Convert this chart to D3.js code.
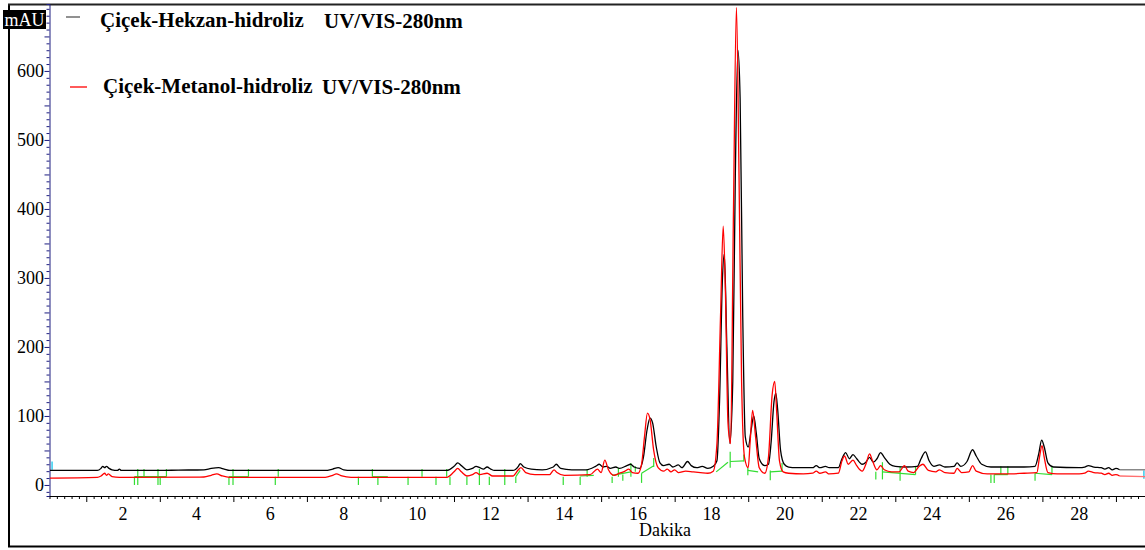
<!DOCTYPE html>
<html>
<head>
<meta charset="utf-8">
<script src="https://cdn.jsdelivr.net/npm/d3@7"></script>
<style>
  body { margin: 0; background: #fff; }
  svg { display: block; font-family: "Liberation Serif", "DejaVu Serif", serif; }
</style>
</head>
<body>
<svg id="chart" width="1145" height="550"></svg>
<script>
// Chromatogram traces, [time (min), signal (mAU)]
const hekzan = [
  [0,21],[1.3,21],[1.4,24],[1.45,27],[1.5,25],[1.55,27],[1.62,24],[1.7,22],[1.85,21],[1.9,23],[1.95,21],
  [3,21],[3.5,21.5],[4.2,22],[4.4,24],[4.6,25],[4.75,23],[4.9,21],[6,21],[7.5,21],[7.7,23],[7.85,25],
  [8.0,22],[8.2,21],[9,21],[10.8,21],[11.0,27],[11.1,32],[11.2,28],[11.35,22],[11.5,24],[11.6,27],
  [11.7,25],[11.8,23],[11.9,26],[12.0,23],[12.1,21],[12.6,21],[12.75,27],[12.8,31],[12.9,26],[13.1,23],
  [13.4,22],[13.7,26],[13.78,30],[13.9,24],[14.2,22],[14.6,22],[14.85,27],[14.95,30],[15.05,26],
  [15.15,27],[15.25,24],[15.4,26],[15.5,24],[15.7,28],[15.8,30],[15.9,26],[16.05,24],[16.15,40],
  [16.25,80],[16.33,97],[16.4,90],[16.5,55],[16.6,32],[16.7,28],[16.85,30],[16.95,26],[17.1,29],
  [17.2,25],[17.35,34],[17.45,28],[17.6,25],[17.75,27],[17.9,24],[18.05,27],[18.15,35],[18.22,120],
  [18.3,300],[18.35,335],[18.42,200],[18.5,60],[18.58,150],[18.65,450],[18.72,630],[18.78,560],
  [18.85,250],[18.92,70],[19.0,55],[19.08,80],[19.15,100],[19.22,75],[19.3,38],[19.45,28],[19.55,30],
  [19.62,60],[19.7,120],[19.75,133],[19.8,110],[19.88,50],[19.98,30],[20.1,26],[20.3,25],[20.5,25],
  [20.75,25],[20.85,28],[20.95,25],[21.1,27],[21.2,25],[21.45,25],[21.55,38],[21.65,47],[21.75,38],
  [21.85,44],[21.95,38],[22.1,30],[22.2,33],[22.3,40],[22.4,33],[22.5,38],[22.6,47],[22.7,40],
  [22.85,30],[23,27],[23.3,26],[23.6,27],[23.7,38],[23.82,48],[23.92,35],[24.05,27],[24.2,29],
  [24.35,26],[24.6,27],[24.68,32],[24.78,27],[24.95,34],[25.1,51],[25.2,42],[25.35,30],[25.6,26],
  [26.0,26],[26.5,26],[26.8,27],[26.9,45],[26.98,65],[27.05,55],[27.15,32],[27.3,26],[28,25],
  [28.15,26],[28.25,28],[28.4,26],[28.6,25],[28.7,23],[28.8,25],[28.9,22],[29.0,24],[29.1,22]
];
const hekzanTail = [[29.1,22],[29.8,22]];

const metanol = [
  [0,10],[1.3,11],[1.4,13],[1.5,17],[1.55,14],[1.6,16],[1.7,12],[1.9,11],[4.2,11.5],[4.4,14],
  [4.55,16],[4.7,13],[4.9,11],[7.5,11],[7.7,14],[7.8,16],[7.95,13],[8.2,11],[10.8,11],[11.0,19],
  [11.1,24],[11.2,19],[11.35,13],[11.5,15],[11.6,18],[11.7,15],[11.9,17],[12.05,13],[12.6,13],
  [12.75,22],[12.82,25],[12.95,18],[13.2,15],[13.6,15],[13.72,22],[13.8,18],[14.0,14],[14.7,15],
  [14.9,23],[15.0,18],[15.1,36],[15.2,22],[15.35,14],[15.5,17],[15.65,20],[15.75,23],[15.85,18],
  [16.0,17],[16.1,30],[16.18,70],[16.26,104],[16.33,95],[16.43,50],[16.55,25],[16.7,20],[16.8,23],
  [16.9,19],[17.0,22],[17.1,18],[17.3,20],[17.5,19],[17.7,18],[17.9,17],[18.05,20],[18.15,60],
  [18.25,250],[18.32,375],[18.38,280],[18.45,90],[18.52,60],[18.6,400],[18.68,692],[18.75,450],
  [18.82,150],[18.9,40],[19.0,25],[19.05,60],[19.12,108],[19.2,70],[19.3,25],[19.45,17],[19.55,40],
  [19.65,130],[19.72,150],[19.78,100],[19.85,35],[19.95,19],[20.1,17],[20.5,16],[20.75,17],
  [20.85,20],[20.95,17],[21.1,19],[21.2,16],[21.45,17],[21.55,35],[21.62,42],[21.72,30],[21.85,36],
  [21.95,28],[22.1,20],[22.2,30],[22.3,45],[22.38,35],[22.5,22],[22.6,28],[22.7,22],[22.9,19],
  [23.1,19],[23.25,28],[23.35,20],[23.5,18],[23.65,27],[23.75,30],[23.9,21],[24.1,19],[24.2,22],
  [24.35,18],[24.6,17],[24.68,24],[24.8,18],[25.0,19],[25.1,28],[25.2,20],[25.5,16],[26,16],
  [26.5,17],[26.85,18],[26.92,40],[26.99,57],[27.05,40],[27.15,18],[27.4,16],[28,16],[28.15,17],
  [28.25,20],[28.4,18],[28.6,17],[28.7,15],[28.8,17],[28.9,14],[29.0,15],[29.1,13]
];
const metanolTail = [[29.1,13],[29.8,12]];

// integration marks: [time, top, bottom] and baselines [t1, v1, t2, v2]
const greenTicks = [
  [2.31,12,0],[2.40,23,0],[2.57,23,12],[2.95,23,0],[3.01,12,0],[3.18,23,12],[4.88,12,0],[4.99,23,0],
  [5.41,23,12],[6.14,12,0],[6.22,23,12],[8.40,12,0],[8.78,23,12],[8.93,12,0],[9.75,12,0],[10.13,23,12],
  [10.51,12,0],[10.80,23,12],[10.89,12,0],[11.35,12,0],[11.69,23,0],[11.96,12,0],[12.38,23,0],
  [12.68,12,3],[13.97,12,0],[14.43,12,0],[14.62,23,12],[15.30,12,3],[15.47,25,12],[15.59,15,6],
  [15.81,32,12],[15.93,27,19],[16.10,17,3],[16.43,39,26],[18.51,48,25],[18.88,44,34],[18.99,25,14],
  [19.60,21,7],[19.92,32,19],[22.47,19,8],[22.65,33,8],[23.13,27,6],[23.55,27,15],[25.60,15,3],
  [25.69,15,3],[25.87,27,15],[26.06,27,15],[26.80,17,6],[27.26,27,15]
];
const greenSegs = [
  [2.31,12,3.18,12],[4.88,12,5.41,12],[8.78,12,9.2,12],[12.68,12,12.8,21],[14.43,13,14.8,14],
  [15.30,14,15.81,19],[16.10,17,16.43,28],[18.13,19,18.45,33],[18.51,34,18.88,35],[18.99,21,19.27,19],
  [19.60,19,19.92,20],[22.65,19,23.55,15],[25.69,15,26.06,15],[26.80,17,27.26,15]
];
const cyanTicks = [[0.07,34,22],[29.76,21,9]];

const yTickLabels = [0, 100, 200, 300, 400, 500, 600];
const xTickLabels = [2, 4, 6, 8, 10, 12, 14, 16, 18, 20, 22, 24, 26, 28];
const legend = [
  { name: "Çiçek-Hekzan-hidroliz", detector: "UV/VIS-280nm", color: "#555" },
  { name: "Çiçek-Metanol-hidroliz", detector: "UV/VIS-280nm", color: "#ff0000" }
];

const svg = d3.select("#chart");
const x = d3.scaleLinear().domain([0, 29.79]).range([49.5, 1145]);
const y = d3.scaleLinear().domain([-16, 697]).range([496, 4]);

// outer frame
svg.append("line").attr("x1", 9).attr("x2", 9).attr("y1", 4).attr("y2", 547)
  .attr("stroke", "#000").attr("stroke-width", 2);
svg.append("line").attr("x1", 8).attr("x2", 1145).attr("y1", 4.5).attr("y2", 4.5)
  .attr("stroke", "#222").attr("stroke-width", 2);
svg.append("line").attr("x1", 8).attr("x2", 1145).attr("y1", 546.5).attr("y2", 546.5)
  .attr("stroke", "#000").attr("stroke-width", 2);

svg.append("defs").append("clipPath").attr("id", "plot")
  .append("rect").attr("x", 50).attr("y", 5).attr("width", 1095).attr("height", 491);

// y axis
const yAxis = d3.axisLeft(y)
  .tickValues(d3.range(-10, 691, 10))
  .tickSize(3)
  .tickFormat("");
const gy = svg.append("g").attr("transform", "translate(49.5,0)").call(yAxis);
gy.select(".domain").attr("stroke", "#1c1c80");
gy.selectAll(".tick line").attr("stroke", "#1c1c80")
  .attr("x2", d => d % 50 === 0 ? -5 : -3);
svg.append("g").selectAll("text").data(yTickLabels).enter().append("text")
  .attr("x", 44).attr("y", d => y(d)).attr("dy", "0.35em")
  .attr("text-anchor", "end").attr("font-size", 18).text(d => d);

// x axis
const xAxis = d3.axisBottom(x)
  .tickValues(d3.range(0.2, 29.7, 0.2))
  .tickSize(3)
  .tickFormat("");
const gx = svg.append("g").attr("transform", "translate(0,496)").call(xAxis);
gx.select(".domain").attr("stroke", "#000");
gx.selectAll(".tick line").attr("stroke", "#000")
  .attr("y2", d => Math.abs(Math.round(d) - d) < 0.01 && Math.round(d) % 2 === 1 ? 6 : 3);
svg.append("g").selectAll("text").data(xTickLabels).enter().append("text")
  .attr("x", d => x(d)).attr("y", 520)
  .attr("text-anchor", "middle").attr("font-size", 18).text(d => d);
svg.append("text").attr("x", 665).attr("y", 536).attr("text-anchor", "middle")
  .attr("font-size", 18).text("Dakika");

// plot content
const plot = svg.append("g").attr("clip-path", "url(#plot)");
const line = d3.line().x(d => x(d[0])).y(d => y(d[1])).curve(d3.curveMonotoneX);

plot.selectAll(".gtick").data(greenTicks).enter().append("line")
  .attr("x1", d => x(d[0])).attr("x2", d => x(d[0]))
  .attr("y1", d => y(d[1])).attr("y2", d => y(d[2]))
  .attr("stroke", "#33dd33").attr("stroke-width", 1.2);
plot.selectAll(".gseg").data(greenSegs).enter().append("line")
  .attr("x1", d => x(d[0])).attr("y1", d => y(d[1]))
  .attr("x2", d => x(d[2])).attr("y2", d => y(d[3]))
  .attr("stroke", "#33dd33").attr("stroke-width", 1.2);
plot.selectAll(".ctick").data(cyanTicks).enter().append("line")
  .attr("x1", d => x(d[0])).attr("x2", d => x(d[0]))
  .attr("y1", d => y(d[1])).attr("y2", d => y(d[2]))
  .attr("stroke", "#33ccee").attr("stroke-width", 1.5);

plot.append("path").datum(hekzanTail).attr("d", line)
  .attr("fill", "none").attr("stroke", "#777").attr("stroke-width", 1.3);
plot.append("path").datum(metanolTail).attr("d", line)
  .attr("fill", "none").attr("stroke", "#ff7070").attr("stroke-width", 1.3);
plot.append("path").datum(hekzan).attr("d", line)
  .attr("fill", "none").attr("stroke", "#000").attr("stroke-width", 1.3);
plot.append("path").datum(metanol).attr("d", line)
  .attr("fill", "none").attr("stroke", "#ff0000").attr("stroke-width", 1.3);

// unit label
svg.append("rect").attr("x", 3).attr("y", 10).attr("width", 43).attr("height", 19).attr("fill", "#000");
svg.append("text").attr("x", 24.5).attr("y", 25.5).attr("text-anchor", "middle")
  .attr("font-size", 18).attr("fill", "#fff").text("mAU");

// legend
const lg = svg.append("g").selectAll("g").data(legend).enter().append("g")
  .attr("transform", (d, i) => `translate(0,${i === 0 ? 0 : 66})`);
lg.append("line").attr("x1", (d, i) => i === 0 ? 66 : 70).attr("x2", (d, i) => i === 0 ? 80 : 87)
  .attr("y1", (d, i) => i === 0 ? 17 : 21).attr("y2", (d, i) => i === 0 ? 17 : 21)
  .attr("stroke", d => d.color).attr("stroke-width", 1.3);
lg.append("text").attr("x", (d, i) => i === 0 ? 100 : 103).attr("y", 27)
  .attr("font-size", 21).attr("font-weight", "bold").text(d => d.name);
lg.append("text").attr("x", (d, i) => i === 0 ? 324 : 322).attr("y", 28)
  .attr("font-size", 21).attr("font-weight", "bold").text(d => d.detector);
</script>
</body>
</html>
